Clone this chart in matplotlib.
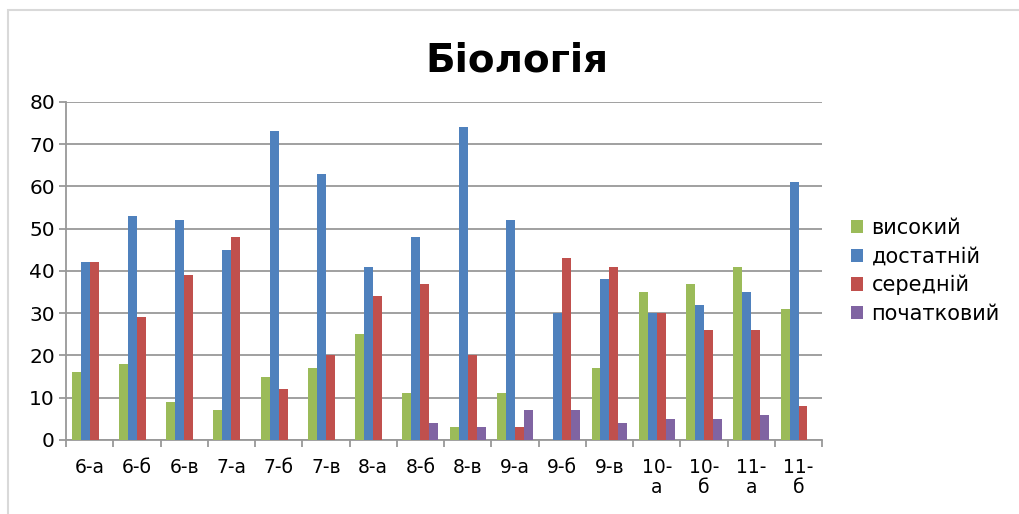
import matplotlib.pyplot as plt
import numpy as np
from matplotlib.patches import Rectangle

# Data
classes = ['6-а', '6-б', '6-в', '7-а', '7-б', '7-в', '8-а', '8-б', '8-в',
           '9-а', '9-б', '9-в', '10-\nа', '10-\nб', '11-\nа', '11-\nб']
high = [16, 18, 9, 7, 15, 17, 25, 11, 3, 11, 0, 17, 35, 37, 41, 31]
sufficient = [42, 53, 52, 45, 73, 63, 41, 48, 74, 52, 30, 38, 30, 32, 35, 61]
medium = [42, 29, 39, 48, 12, 20, 34, 37, 20, 3, 43, 41, 30, 26, 26, 8]
initial = [0, 0, 0, 0, 0, 0, 0, 4, 3, 7, 7, 4, 5, 5, 6, 0]

series = [
    ('високий', high, '#9BBB59'),
    ('достатній', sufficient, '#4F81BD'),
    ('середній', medium, '#C0504D'),
    ('початковий', initial, '#8064A2'),
]

fig = plt.figure(figsize=(10.19, 5.14), dpi=100)
ax = fig.add_axes([0.0648, 0.144, 0.742, 0.658])

# light outer frame of the chart area (right/bottom edges run off the image)
fig.patches.append(Rectangle((8 / 1019, -0.1), 1.5, (514 - 10) / 514 + 0.1,
                             transform=fig.transFigure, fill=False,
                             edgecolor='#d9d9d9', linewidth=1.5))

x = np.arange(len(classes))
w = 0.19
for i, (name, vals, col) in enumerate(series):
    ax.bar(x + (i - 1.5) * w, vals, width=w, color=col, label=name, zorder=3)

ax.set_xlim(-0.5, len(classes) - 0.5)
ax.set_ylim(0, 80)
ax.set_yticks(range(0, 81, 10))
ax.yaxis.grid(True, color='#999999', linewidth=1.3, zorder=0)

ax.set_xticks(x)
ax.set_xticklabels(classes, fontsize=13.5, linespacing=1.05)
ax.set_xticks(np.arange(-0.5, len(classes), 1), minor=True)
ax.tick_params(axis='x', which='major', length=0, pad=13)
ax.tick_params(axis='x', which='minor', length=5, color='#999999', width=1.3)
ax.tick_params(axis='y', length=5, color='#999999', width=1.3, labelsize=14.5, pad=3)

for s in ['top', 'right']:
    ax.spines[s].set_visible(False)
for s in ['left', 'bottom']:
    ax.spines[s].set_color('#999999')
    ax.spines[s].set_linewidth(1.3)

fig.text(517 / 1019, 1 - 60 / 514, 'Біологія', fontsize=28, fontweight='bold',
         ha='center', va='center')

ax.legend(loc='center left', bbox_to_anchor=(1.013, 0.5), frameon=False,
          fontsize=15, handlelength=0.6, handleheight=0.6, handletextpad=0.4,
          labelspacing=0.4)

fig.savefig('out.png', dpi=100)
